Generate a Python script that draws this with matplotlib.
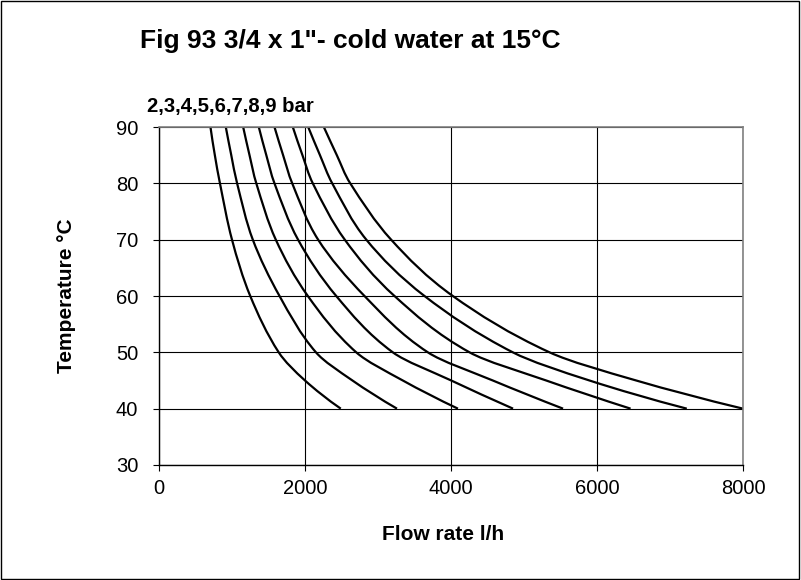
import matplotlib
matplotlib.use("Agg")
import matplotlib.pyplot as plt
import numpy as np
from matplotlib.patches import Rectangle, PathPatch
from matplotlib.path import Path

# Temperatur-Stützstellen (°C) und Durchfluss (l/h) je Druckstufe
temps = [90, 85, 80, 70, 60, 50, 45, 40]
flow_2bar = [705, 765, 835, 1000, 1250, 1640, 2000, 2490]
flow_3bar = [915, 990, 1070, 1285, 1651, 2150, 2650, 3260]
flow_4bar = [1153, 1240, 1333, 1600, 2039, 2702, 3340, 4095]
flow_5bar = [1367, 1470, 1582, 1905, 2428, 3203, 4003, 4850]
flow_6bar = [1582, 1700, 1825, 2180, 2815, 3683, 4573, 5535]
flow_7bar = [1833, 1965, 2107, 2545, 3226, 4254, 5304, 6460]
flow_8bar = [2044, 2205, 2373, 2840, 3637, 4847, 5897, 7230]
flow_9bar = [2258, 2436, 2620, 3180, 4025, 5350, 6537, 8000]
series = [flow_2bar, flow_3bar, flow_4bar, flow_5bar,
          flow_6bar, flow_7bar, flow_8bar, flow_9bar]

x_ticks = [0, 2000, 4000, 6000, 8000]
y_ticks = [30, 40, 50, 60, 70, 80, 90]

title = 'Fig 93 3/4 x 1"- cold water at 15°C'
bar_label = "2,3,4,5,6,7,8,9 bar"


def smooth_path(flows, ts):
    """Geglättete Linie wie Excel: kubische Hermite-Segmente (zentrale Tangenten) als Bezier."""
    t = np.asarray(ts, float); x = np.asarray(flows, float)
    o = np.argsort(t); t = t[o]; x = x[o]
    h = np.diff(t); d = np.diff(x) / h
    m = np.zeros_like(x)
    m[1:-1] = (x[2:] - x[:-2]) / (t[2:] - t[:-2])
    m[0] = ((2 * h[0] + h[1]) * d[0] - h[0] * d[1]) / (h[0] + h[1])
    m[-1] = ((2 * h[-1] + h[-2]) * d[-1] - h[-1] * d[-2]) / (h[-1] + h[-2])
    verts = [(x[0], t[0])]; codes = [Path.MOVETO]
    for k in range(len(h)):
        verts += [(x[k] + m[k] * h[k] / 3, t[k] + h[k] / 3),
                  (x[k + 1] - m[k + 1] * h[k] / 3, t[k + 1] - h[k] / 3),
                  (x[k + 1], t[k + 1])]
        codes += [Path.CURVE4] * 3
    return Path(verts, codes)


plt.rcParams["font.family"] = ["Liberation Sans", "DejaVu Sans"]

fig = plt.figure(figsize=(8.01, 5.80), dpi=100)
ax = fig.add_axes([0.1985, 0.1983, 0.7291, 0.5827])

for flows in series:
    ax.add_patch(PathPatch(smooth_path(flows, temps), facecolor="none",
                           edgecolor="black", lw=1.6, capstyle="butt"))

ax.set_xlim(0, 8000); ax.set_ylim(30, 90)
ax.set_xticks(x_ticks); ax.set_yticks(y_ticks)
ax.tick_params(labelsize=14.5, length=4, width=0.8, direction="out",
               top=False, right=False)
ax.tick_params(axis="y", pad=11)
ax.tick_params(axis="x", pad=6)
ax.grid(True, color="black", lw=0.8)
ax.set_axisbelow(True)
for s in ("left", "bottom"):
    ax.spines[s].set_color("black"); ax.spines[s].set_linewidth(1.0)
for s in ("top", "right"):
    ax.spines[s].set_color("#808080"); ax.spines[s].set_linewidth(1.2)

fig.text(0.4376, 0.929, title, fontsize=19, fontweight="bold", ha="center", va="center")
fig.text(0.1835, 0.817, bar_label, fontsize=14.6, fontweight="bold", ha="left", va="center")
fig.text(0.5537, 0.0776, "Flow rate l/h", fontsize=15, fontweight="bold", ha="center", va="center")
fig.text(0.0836, 0.4897, "Temperature °C", fontsize=15, fontweight="bold", ha="center",
         va="center", rotation=90)

fig.add_artist(Rectangle((0.001, 0.001), 0.997, 0.997, transform=fig.transFigure,
                         fill=False, edgecolor="black", lw=1.0))

fig.savefig("out.png", dpi=100)
